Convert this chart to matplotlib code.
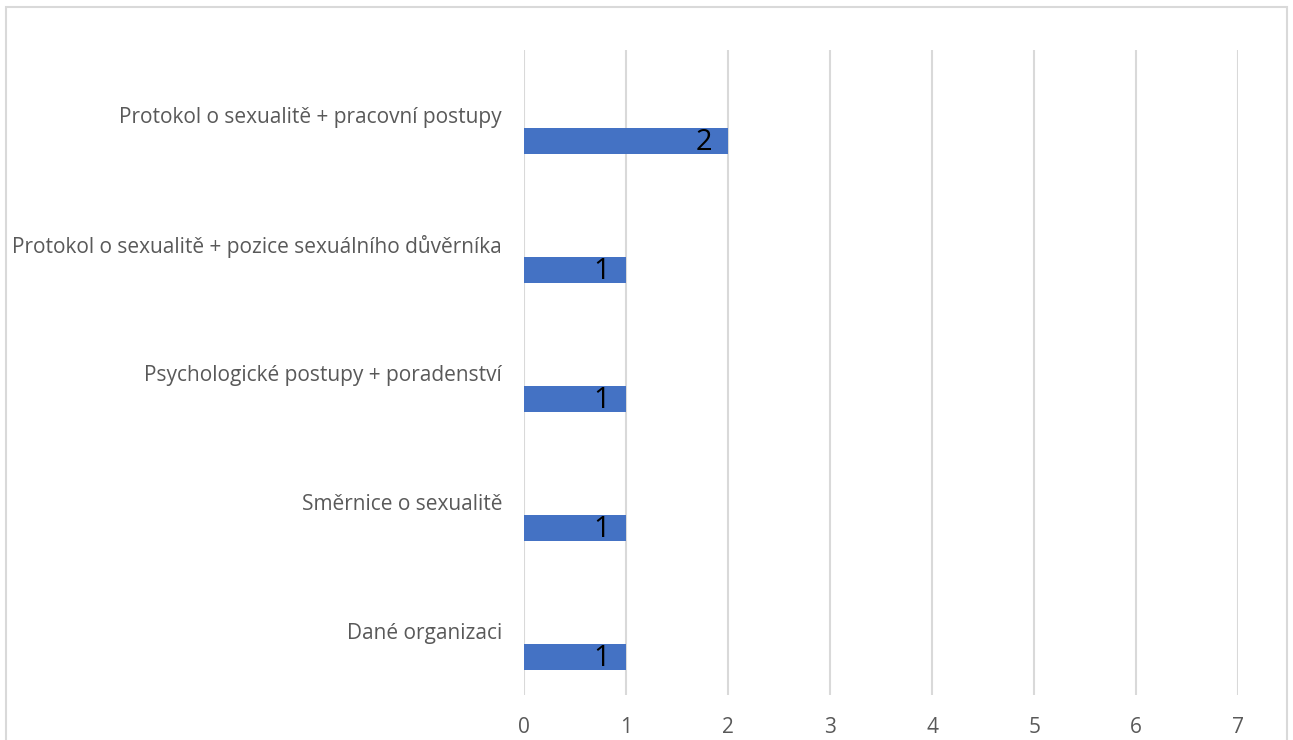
import matplotlib
matplotlib.use("Agg")
import matplotlib.pyplot as plt
from matplotlib.patches import Rectangle

categories = [
    "Protokol o sexualitě + pracovní postupy",
    "Protokol o sexualitě + pozice sexuálního důvěrníka",
    "Psychologické postupy + poradenství",
    "Směrnice o sexualitě",
    "Dané organizaci",
]
values = [2, 1, 1, 1, 1]
x_ticks = [0, 1, 2, 3, 4, 5, 6, 7]

plt.rcParams["font.family"] = ["Open Sans", "DejaVu Sans"]

W, H = 1293, 740
fig = plt.figure(figsize=(W / 100, H / 100), dpi=100)
fig.patch.set_facecolor("white")

# outer chart frame
fig.add_artist(Rectangle((6 / W, -0.05), (1287 - 6) / W, 1.05 - 7 / H,
                         transform=fig.transFigure, fill=False,
                         edgecolor="#D9D9D9", linewidth=1.5))

ax = fig.add_axes([524.3 / W, 1 - 695 / H, (1238.3 - 524.3) / W, (695 - 50) / H])

positions = list(range(len(categories)))
bar_offset = 0.205
bar_height = 0.2
bar_y = [p + bar_offset for p in positions]

ax.barh(bar_y, values, height=bar_height, color="#4472C4", zorder=3)

for y, v in zip(bar_y, values):
    ax.annotate(str(v), xy=(v, y), xytext=(-11.5, -1), textcoords="offset points",
                ha="right", va="center", fontsize=21, color="black", zorder=4)

ax.set_xlim(x_ticks[0], x_ticks[-1])
ax.set_ylim(len(categories) - 0.5, -0.5)
ax.set_xticks(x_ticks)
ax.set_xticklabels([str(t) for t in x_ticks])
ax.set_yticks(positions)
ax.set_yticklabels(categories)

ax.grid(axis="x", color="#D9D9D9", linewidth=1.5, zorder=0)
ax.set_axisbelow(True)
for s in ax.spines.values():
    s.set_visible(False)
ax.tick_params(axis="both", length=0, colors="#595959", labelsize=15)
ax.tick_params(axis="x", pad=16)
ax.tick_params(axis="y", pad=16)

fig.savefig("out.png", dpi=100, facecolor="white")
